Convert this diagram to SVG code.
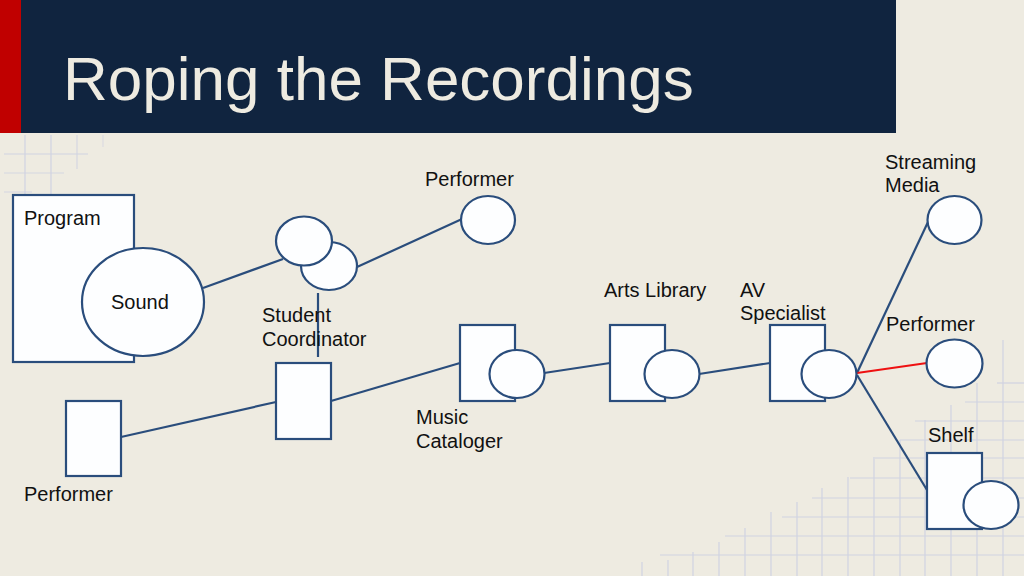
<svg xmlns="http://www.w3.org/2000/svg" width="1024" height="576" viewBox="0 0 1024 576">
<style>
.bg{fill:#EEEBE1}
.grid line{stroke:#D0D3E2;stroke-width:1.2}
.shape{fill:#FDFEFF;stroke:#2A4D7C;stroke-width:2.2}
.conn line{stroke:#2A4D7C;stroke-width:2.2}
.conn line.red{stroke:#EE1111}
.lbl{font-family:"Liberation Sans",Arial,sans-serif;font-size:20px;fill:#111111}
.title{font-family:"Liberation Sans",Arial,sans-serif;font-size:62px;fill:#EEEBE1}
</style>
<rect class="bg" x="0" y="0" width="1024" height="576"/>
<g class="grid" id="grid-tl">
<line x1="25" y1="135" x2="25" y2="194"/>
<line x1="51" y1="135" x2="51" y2="194"/>
<line x1="77" y1="135" x2="77" y2="169" opacity="0.8"/>
<line x1="103" y1="135" x2="103" y2="147" opacity="0.6"/>
<line x1="4" y1="154" x2="88" y2="154"/>
<line x1="4" y1="173" x2="64" y2="173" opacity="0.8"/>
<line x1="4" y1="192" x2="32" y2="192" opacity="0.7"/>
</g>
<g class="grid" id="grid-br">
<line x1="642" y1="562" x2="642" y2="576"/>
<line x1="668" y1="560" x2="668" y2="576"/>
<line x1="693" y1="552" x2="693" y2="576"/>
<line x1="719" y1="542" x2="719" y2="576"/>
<line x1="745" y1="528" x2="745" y2="576"/>
<line x1="771" y1="512" x2="771" y2="576"/>
<line x1="797" y1="502" x2="797" y2="576"/>
<line x1="822" y1="488" x2="822" y2="576"/>
<line x1="848" y1="477" x2="848" y2="576"/>
<line x1="874" y1="457" x2="874" y2="576"/>
<line x1="900" y1="440" x2="900" y2="576"/>
<line x1="925" y1="420" x2="925" y2="576"/>
<line x1="951" y1="405" x2="951" y2="576"/>
<line x1="977" y1="383" x2="977" y2="576"/>
<line x1="1003" y1="340" x2="1003" y2="576"/>
<line x1="660" y1="555" x2="1024" y2="555"/>
<line x1="725" y1="536" x2="1024" y2="536"/>
<line x1="782" y1="517" x2="1024" y2="517"/>
<line x1="812" y1="498" x2="1024" y2="498"/>
<line x1="850" y1="478" x2="1024" y2="478"/>
<line x1="875" y1="458" x2="1024" y2="458"/>
<line x1="900" y1="440" x2="1024" y2="440"/>
<line x1="915" y1="421" x2="1024" y2="421"/>
<line x1="965" y1="402" x2="1024" y2="402"/>
<line x1="997" y1="383" x2="1024" y2="383"/>
</g>
<g id="header">
<rect x="0" y="0" width="896" height="133" fill="#10243F"/>
<rect x="0" y="0" width="21" height="133" fill="#C00000"/>
<text class="title" x="63" y="100">Roping the Recordings</text>
</g>
<g class="conn" id="connectors">
<line x1="203" y1="288" x2="283" y2="259"/>
<line x1="357" y1="267" x2="462" y2="219"/>
<line x1="318" y1="293" x2="318" y2="357"/>
<line x1="121" y1="437" x2="276" y2="402"/>
<line x1="331" y1="401" x2="460" y2="363"/>
<line x1="544" y1="373" x2="610" y2="363"/>
<line x1="699" y1="374" x2="770" y2="363"/>
<line x1="857" y1="373" x2="928" y2="222"/>
<line class="red" x1="857" y1="373" x2="927" y2="363"/>
<line x1="857" y1="375" x2="927" y2="490"/>
</g>
<g id="program-sound">
<rect class="shape" x="13" y="195" width="121" height="167"/>
<ellipse class="shape" cx="143" cy="302" rx="61" ry="54"/>
<text class="lbl" x="24" y="225">Program</text>
<text class="lbl" x="111" y="309">Sound</text>
</g>
<g id="student-circles">
<ellipse class="shape" cx="329" cy="266" rx="28" ry="24"/>
<ellipse class="shape" cx="304" cy="241" rx="28" ry="24.5"/>
</g>
<g id="performer-top">
<ellipse class="shape" cx="488" cy="220" rx="27" ry="24"/>
<text class="lbl" x="425" y="186">Performer</text>
</g>
<g id="student-coordinator">
<rect class="shape" x="276" y="363" width="55" height="76"/>
<text class="lbl" x="262" y="322">Student</text>
<text class="lbl" x="262" y="346">Coordinator</text>
</g>
<g id="performer-left">
<rect class="shape" x="66" y="401" width="55" height="75"/>
<text class="lbl" x="24" y="501">Performer</text>
</g>
<g id="music-cataloger">
<rect class="shape" x="460" y="325" width="55" height="76"/>
<ellipse class="shape" cx="517" cy="374" rx="27.5" ry="24"/>
<text class="lbl" x="416" y="424">Music</text>
<text class="lbl" x="416" y="448">Cataloger</text>
</g>
<g id="arts-library">
<rect class="shape" x="610" y="325" width="55" height="76"/>
<ellipse class="shape" cx="672" cy="374" rx="27.5" ry="24"/>
<text class="lbl" x="604" y="297">Arts Library</text>
</g>
<g id="av-specialist">
<rect class="shape" x="770" y="325" width="55" height="76"/>
<ellipse class="shape" cx="829" cy="374" rx="27.5" ry="24"/>
<text class="lbl" x="740" y="297">AV</text>
<text class="lbl" x="740" y="320">Specialist</text>
</g>
<g id="streaming-media">
<ellipse class="shape" cx="954.5" cy="220" rx="27" ry="24"/>
<text class="lbl" x="885" y="169">Streaming</text>
<text class="lbl" x="885" y="192">Media</text>
</g>
<g id="performer-right">
<ellipse class="shape" cx="954.5" cy="363.5" rx="28" ry="24"/>
<text class="lbl" x="886" y="331">Performer</text>
</g>
<g id="shelf">
<rect class="shape" x="927" y="453" width="55" height="76"/>
<ellipse class="shape" cx="991" cy="505" rx="27.5" ry="24"/>
<text class="lbl" x="928" y="442">Shelf</text>
</g>
</svg>
